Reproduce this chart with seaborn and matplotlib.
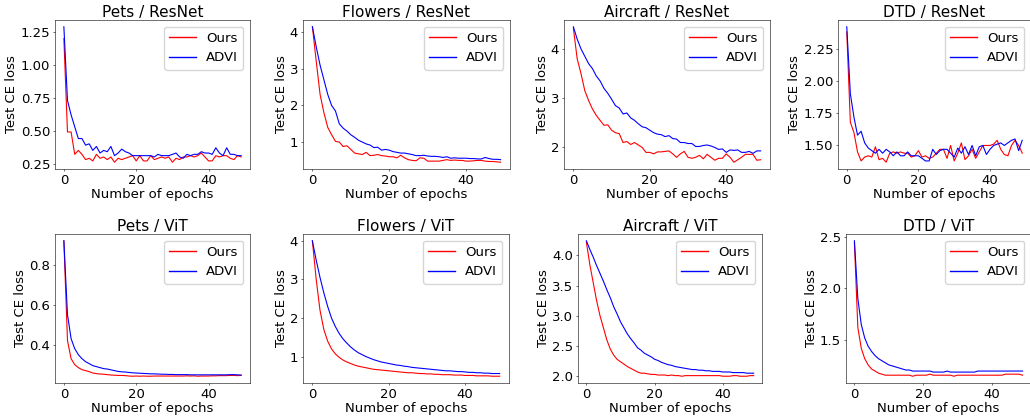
import matplotlib
matplotlib.use('Agg')
import matplotlib.pyplot as plt
from matplotlib.lines import Line2D
import pandas as pd
import seaborn as sns

epochs = list(range(50))
methods = ['Ours', 'ADVI']
method_colors = {'Ours': 'red', 'ADVI': 'blue'}

titles = ["Pets / ResNet", "Flowers / ResNet", "Aircraft / ResNet", "DTD / ResNet",
          "Pets / ViT", "Flowers / ViT", "Aircraft / ViT", "DTD / ViT"]

# test CE loss, one list per curve
pets_resnet_ours = [1.20, 0.49, 0.49, 0.32, 0.35, 0.32, 0.28, 0.29, 0.27, 0.32,
                    0.29, 0.30, 0.28, 0.30, 0.26, 0.29, 0.28, 0.29, 0.30, 0.31,
                    0.27, 0.31, 0.27, 0.27, 0.31, 0.28, 0.29, 0.30, 0.29, 0.30,
                    0.26, 0.29, 0.28, 0.30, 0.30, 0.31, 0.30, 0.31, 0.33, 0.30,
                    0.27, 0.27, 0.31, 0.30, 0.31, 0.31, 0.29, 0.28, 0.31, 0.30]
pets_resnet_advi = [1.29, 0.73, 0.62, 0.53, 0.44, 0.44, 0.39, 0.40, 0.35, 0.38,
                    0.33, 0.35, 0.34, 0.38, 0.31, 0.33, 0.36, 0.34, 0.33, 0.31,
                    0.31, 0.31, 0.31, 0.31, 0.31, 0.30, 0.32, 0.31, 0.31, 0.31,
                    0.32, 0.33, 0.30, 0.29, 0.32, 0.31, 0.32, 0.32, 0.34, 0.33,
                    0.33, 0.32, 0.37, 0.33, 0.31, 0.37, 0.32, 0.32, 0.31, 0.31]

flowers_resnet_ours = [4.15, 3.20, 2.30, 1.80, 1.40, 1.20, 1.02, 1.00, 0.88, 0.90,
                       0.80, 0.70, 0.68, 0.66, 0.72, 0.63, 0.64, 0.66, 0.63, 0.62,
                       0.60, 0.60, 0.57, 0.64, 0.57, 0.52, 0.50, 0.49, 0.57, 0.56,
                       0.48, 0.48, 0.48, 0.48, 0.50, 0.52, 0.50, 0.51, 0.50, 0.50,
                       0.48, 0.48, 0.49, 0.50, 0.50, 0.48, 0.47, 0.47, 0.46, 0.45]
flowers_resnet_advi = [4.15, 3.60, 3.10, 2.70, 2.30, 2.00, 1.85, 1.50, 1.38, 1.30,
                       1.20, 1.13, 1.05, 1.00, 0.95, 0.92, 0.85, 0.86, 0.78, 0.80,
                       0.78, 0.74, 0.72, 0.70, 0.70, 0.68, 0.66, 0.63, 0.63, 0.64,
                       0.62, 0.61, 0.61, 0.60, 0.58, 0.60, 0.56, 0.57, 0.56, 0.56,
                       0.56, 0.55, 0.55, 0.54, 0.54, 0.58, 0.55, 0.53, 0.53, 0.52]

aircraft_resnet_ours = [4.42, 3.80, 3.50, 3.15, 2.95, 2.78, 2.65, 2.55, 2.45, 2.46,
                        2.35, 2.30, 2.28, 2.10, 2.12, 2.06, 2.10, 2.05, 2.00, 1.90,
                        1.90, 1.87, 1.91, 1.91, 1.92, 1.93, 1.87, 1.80, 1.87, 1.92,
                        1.80, 1.78, 1.80, 1.84, 1.77, 1.86, 1.80, 1.74, 1.78, 1.78,
                        1.87, 1.80, 1.70, 1.75, 1.80, 1.86, 1.86, 1.86, 1.74, 1.75]
aircraft_resnet_advi = [4.45, 4.20, 4.00, 3.85, 3.70, 3.60, 3.45, 3.35, 3.20, 3.10,
                        2.98, 2.85, 2.80, 2.68, 2.70, 2.60, 2.55, 2.48, 2.42, 2.40,
                        2.35, 2.30, 2.27, 2.26, 2.22, 2.24, 2.18, 2.17, 2.10, 2.10,
                        2.08, 2.08, 2.02, 2.02, 2.04, 2.05, 2.03, 2.00, 1.96, 1.97,
                        1.90, 1.95, 1.94, 1.95, 1.90, 1.90, 1.92, 1.88, 1.93, 1.93]

dtd_resnet_ours = [2.38, 1.68, 1.60, 1.45, 1.38, 1.41, 1.42, 1.41, 1.49, 1.39,
                   1.40, 1.37, 1.44, 1.45, 1.44, 1.45, 1.44, 1.44, 1.41, 1.42,
                   1.46, 1.41, 1.42, 1.40, 1.41, 1.44, 1.47, 1.47, 1.40, 1.50,
                   1.38, 1.44, 1.52, 1.39, 1.42, 1.47, 1.40, 1.45, 1.50, 1.50,
                   1.50, 1.51, 1.54, 1.47, 1.43, 1.42, 1.50, 1.54, 1.50, 1.44]
dtd_resnet_advi = [2.42, 1.90, 1.72, 1.58, 1.61, 1.52, 1.48, 1.46, 1.44, 1.47,
                   1.44, 1.47, 1.45, 1.42, 1.45, 1.42, 1.42, 1.45, 1.42, 1.42,
                   1.42, 1.40, 1.38, 1.38, 1.47, 1.43, 1.46, 1.47, 1.47, 1.44,
                   1.41, 1.48, 1.44, 1.49, 1.43, 1.50, 1.42, 1.49, 1.50, 1.43,
                   1.47, 1.50, 1.51, 1.52, 1.50, 1.52, 1.54, 1.55, 1.46, 1.54]

pets_vit_ours = [0.920, 0.420, 0.330, 0.300, 0.285, 0.275, 0.270, 0.265, 0.258, 0.255,
                 0.253, 0.252, 0.250, 0.248, 0.247, 0.246, 0.246, 0.245, 0.243, 0.242,
                 0.243, 0.242, 0.243, 0.242, 0.242, 0.243, 0.243, 0.243, 0.243, 0.243,
                 0.243, 0.243, 0.243, 0.243, 0.244, 0.243, 0.244, 0.242, 0.243, 0.243,
                 0.243, 0.244, 0.244, 0.245, 0.245, 0.245, 0.246, 0.246, 0.245, 0.246]
pets_vit_advi = [0.920, 0.550, 0.430, 0.380, 0.350, 0.330, 0.315, 0.305, 0.295, 0.290,
                 0.285, 0.280, 0.278, 0.274, 0.270, 0.266, 0.264, 0.263, 0.261, 0.259,
                 0.258, 0.257, 0.256, 0.255, 0.254, 0.254, 0.253, 0.252, 0.252, 0.251,
                 0.251, 0.250, 0.250, 0.250, 0.250, 0.249, 0.249, 0.249, 0.249, 0.249,
                 0.249, 0.249, 0.249, 0.249, 0.249, 0.249, 0.250, 0.250, 0.249, 0.248]

flowers_vit_ours = [4.00, 3.00, 2.20, 1.70, 1.40, 1.20, 1.07, 0.98, 0.91, 0.86,
                    0.82, 0.78, 0.75, 0.73, 0.71, 0.69, 0.67, 0.66, 0.65, 0.64,
                    0.63, 0.62, 0.61, 0.60, 0.59, 0.58, 0.58, 0.57, 0.56, 0.56,
                    0.55, 0.55, 0.54, 0.54, 0.53, 0.53, 0.53, 0.52, 0.52, 0.52,
                    0.51, 0.51, 0.51, 0.50, 0.50, 0.50, 0.50, 0.49, 0.49, 0.49]
flowers_vit_advi = [4.00, 3.50, 3.05, 2.65, 2.30, 2.00, 1.78, 1.60, 1.46, 1.35,
                    1.25, 1.17, 1.10, 1.05, 1.00, 0.96, 0.92, 0.89, 0.86, 0.84,
                    0.82, 0.80, 0.78, 0.77, 0.75, 0.74, 0.72, 0.71, 0.70, 0.69,
                    0.68, 0.67, 0.66, 0.65, 0.64, 0.63, 0.63, 0.62, 0.61, 0.61,
                    0.60, 0.59, 0.59, 0.58, 0.58, 0.57, 0.57, 0.56, 0.56, 0.56]

aircraft_vit_ours = [4.22, 3.85, 3.55, 3.25, 3.00, 2.80, 2.60, 2.45, 2.35, 2.28,
                     2.24, 2.20, 2.16, 2.13, 2.10, 2.07, 2.05, 2.05, 2.04, 2.03,
                     2.03, 2.02, 2.02, 2.02, 2.01, 2.02, 2.01, 2.01, 2.00, 2.01,
                     2.01, 2.01, 2.01, 2.01, 2.01, 2.01, 2.01, 2.01, 2.01, 2.01,
                     2.00, 2.00, 2.00, 2.01, 2.01, 2.00, 2.00, 2.00, 2.01, 2.01]
aircraft_vit_advi = [4.24, 4.10, 3.97, 3.83, 3.70, 3.57, 3.43, 3.30, 3.15, 3.03,
                     2.90, 2.80, 2.70, 2.62, 2.55, 2.47, 2.43, 2.38, 2.35, 2.32,
                     2.28, 2.26, 2.23, 2.21, 2.19, 2.18, 2.16, 2.15, 2.14, 2.13,
                     2.12, 2.11, 2.11, 2.10, 2.10, 2.09, 2.09, 2.08, 2.08, 2.08,
                     2.07, 2.07, 2.07, 2.06, 2.06, 2.06, 2.06, 2.05, 2.05, 2.05]

dtd_vit_ours = [2.44, 1.62, 1.42, 1.32, 1.26, 1.22, 1.20, 1.18, 1.17, 1.16,
                1.16, 1.16, 1.16, 1.16, 1.16, 1.16, 1.16, 1.15, 1.16, 1.16,
                1.16, 1.16, 1.17, 1.16, 1.16, 1.16, 1.16, 1.16, 1.16, 1.15,
                1.16, 1.16, 1.16, 1.16, 1.16, 1.16, 1.16, 1.16, 1.16, 1.16,
                1.16, 1.16, 1.16, 1.16, 1.17, 1.17, 1.17, 1.17, 1.17, 1.16]
dtd_vit_advi = [2.46, 1.90, 1.65, 1.52, 1.44, 1.39, 1.35, 1.32, 1.30, 1.28,
                1.26, 1.25, 1.24, 1.23, 1.22, 1.21, 1.21, 1.20, 1.20, 1.20,
                1.20, 1.20, 1.20, 1.19, 1.19, 1.19, 1.19, 1.20, 1.19, 1.19,
                1.19, 1.19, 1.19, 1.19, 1.19, 1.19, 1.20, 1.20, 1.20, 1.20,
                1.20, 1.20, 1.20, 1.20, 1.20, 1.20, 1.20, 1.20, 1.20, 1.20]

curves = [
    (pets_resnet_ours, pets_resnet_advi),
    (flowers_resnet_ours, flowers_resnet_advi),
    (aircraft_resnet_ours, aircraft_resnet_advi),
    (dtd_resnet_ours, dtd_resnet_advi),
    (pets_vit_ours, pets_vit_advi),
    (flowers_vit_ours, flowers_vit_advi),
    (aircraft_vit_ours, aircraft_vit_advi),
    (dtd_vit_ours, dtd_vit_advi),
]

# axes boxes in pixels (left, right) per panel, rows share top/bottom
W, H = 1030, 417
cols_px = [(55, 250), (303, 510), (564, 770), (838, 1031),
           (55, 250), (303, 509), (578, 762), (846, 1031)]
rows_px = [(20, 169), (234, 383)]

# original looks like a big figure shrunk by half: fonts big, ticks/pads thin
s = 0.5
plt.rcParams.update({
    'xtick.major.size': 3.5 * s, 'ytick.major.size': 3.5 * s,
    'xtick.major.pad': 3.5 * s, 'ytick.major.pad': 3.5 * s,
    'xtick.major.width': 0.8 * s, 'ytick.major.width': 0.8 * s,
    'axes.linewidth': 0.8 * s,
    'axes.labelpad': 4 * s,
    'legend.framealpha': 0.8,
})

fig = plt.figure(figsize=(W / 100, H / 100), dpi=100)

for i, (title, (ours, advi)) in enumerate(zip(titles, curves)):
    l, r = cols_px[i]
    t, b = rows_px[i // 4]
    ax = fig.add_axes([l / W, 1 - b / H, (r - l) / W, (b - t) / H])

    df = pd.DataFrame({
        'epoch': epochs * 2,
        'loss': ours + advi,
        'method': [methods[0]] * len(ours) + [methods[1]] * len(advi),
    })
    sns.lineplot(data=df, x='epoch', y='loss', hue='method',
                 hue_order=methods, palette=method_colors,
                 linewidth=0.8, legend=False, ax=ax)

    handles = [Line2D([], [], color=method_colors[m], linewidth=1.0) for m in methods]
    ax.legend(handles, methods, loc="upper right", fontsize=9.5)

    ax.set_title(title, fontsize=11, pad=2)
    ax.set_xlabel("Number of epochs", fontsize=9.5, labelpad=1)
    ax.set_ylabel("Test CE loss", fontsize=9.5, labelpad=1.5)
    ax.tick_params(labelsize=9.5)

fig.savefig("out.png", dpi=100)
